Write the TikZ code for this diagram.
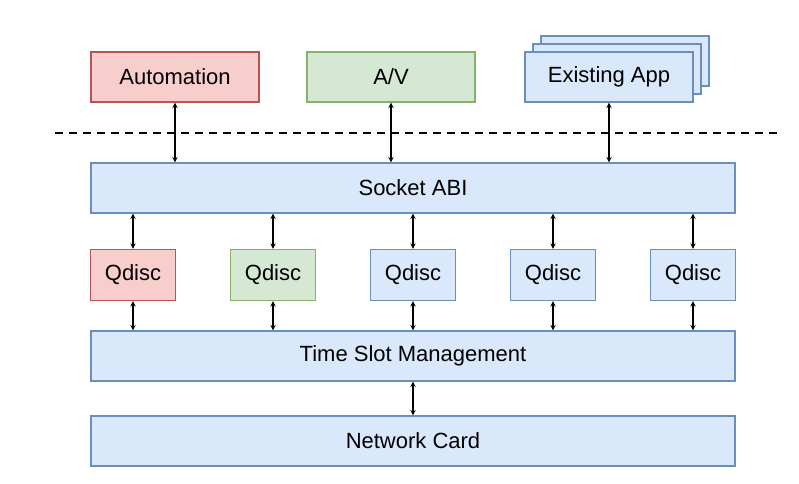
\documentclass[tikz,border=0pt]{standalone}
\usepackage{fontspec}
\setmainfont{Liberation Sans}
\usetikzlibrary{positioning}
\definecolor{redfill}{HTML}{F8CECC}\definecolor{redline}{HTML}{B85450}
\definecolor{greenfill}{HTML}{D5E8D4}\definecolor{greenline}{HTML}{82B366}
\definecolor{bluefill}{HTML}{DAE8FC}\definecolor{blueline}{HTML}{6C8EBF}
\tikzset{
  box/.style={draw=blueline, fill=bluefill, line width=1.2pt, minimum height=50pt,
    inner sep=0pt, font=\fontsize{22}{26}\selectfont},
  wide/.style={box, minimum width=644pt},
  app/.style={box, minimum width=168pt},
  qd/.style={box, minimum width=85pt, minimum height=51pt},
  red/.style={draw=redline, fill=redfill},
  green/.style={draw=greenline, fill=greenfill},
  link/.style={stealth-stealth, line width=1.4pt}
}
\begin{document}
\begin{tikzpicture}[x=1pt, y=-1pt]
  \useasboundingbox (0,0) rectangle (799,483);
  % applications
  \node[app, red] (auto) at (175,77) {Automation};
  \node[app, green] (av) at (391,77) {A/V};
  \node[app] (app2) at (625,61) {};
  \node[app] (app1) at (617,69) {};
  \node[app] (app) at (609,77) {Existing App};
  \draw[line width=2pt, dash pattern=on 8pt off 6pt] (55,133) -- (778,133);
  % stack
  \node[wide] (abi) at (413,188) {Socket ABI};
  \foreach \n/\x/\s in {1/133/red, 2/273/green, 3/413/, 4/553/, 5/693/}
    \node[qd, \s] (q\n) at (\x,275) {Qdisc};
  \node[wide] (tsm) at (413,356) {Time Slot Management};
  \node[wide] (nic) at (413,441) {Network Card};
  % links
  \foreach \a in {auto, av, app}
    \draw[link] (\a.south) -- (\a.south |- abi.north);
  \foreach \n in {1,...,5} {
    \draw[link] (q\n.north) -- (q\n.north |- abi.south);
    \draw[link] (q\n.south) -- (q\n.south |- tsm.north);
  }
  \draw[link] (tsm) -- (nic);
\end{tikzpicture}
\end{document}
